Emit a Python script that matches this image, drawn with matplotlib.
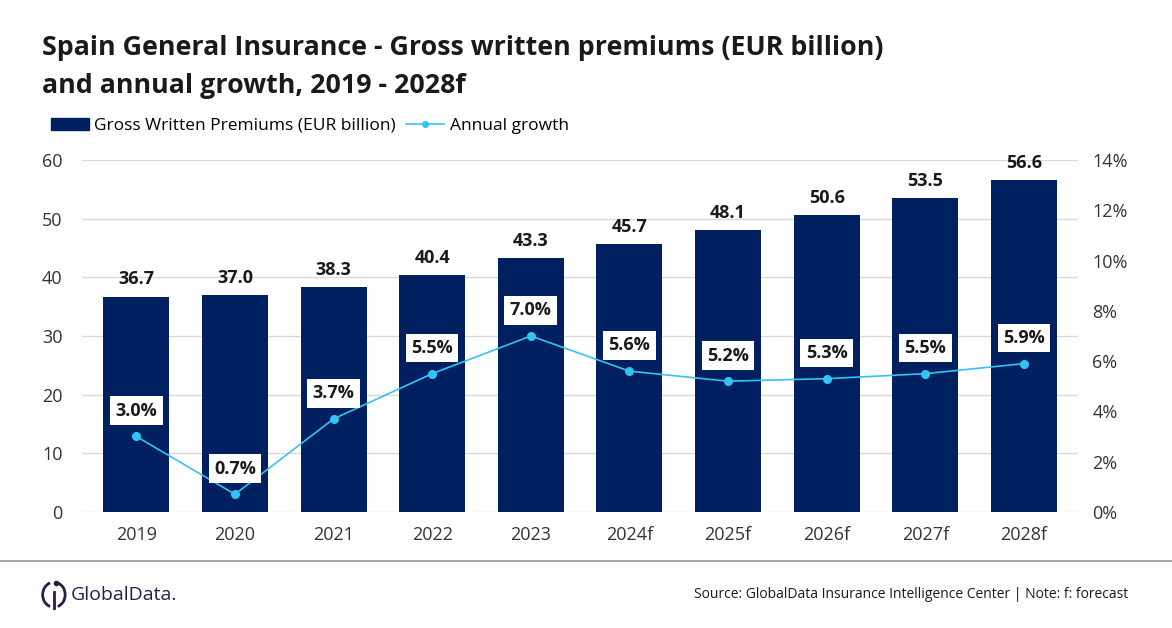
import matplotlib.pyplot as plt
from matplotlib.patches import Arc
from matplotlib.lines import Line2D

years = ["2019", "2020", "2021", "2022", "2023", "2024f", "2025f", "2026f", "2027f", "2028f"]
premiums = [36.7, 37.0, 38.3, 40.4, 43.3, 45.7, 48.1, 50.6, 53.5, 56.6]
growth = [3.0, 0.7, 3.7, 5.5, 7.0, 5.6, 5.2, 5.3, 5.5, 5.9]

bar_color = "#002060"
line_color = "#33c3f5"

plt.rcParams['font.family'] = ['Open Sans', 'DejaVu Sans']

fig = plt.figure(figsize=(11.72, 6.28), dpi=100)
ax = fig.add_axes([0.07, 0.185, 0.85, 0.56])
ax2 = ax.twinx()

x = list(range(len(years)))
ax.bar(x, premiums, width=0.67, color=bar_color, zorder=2)
for xi, v in zip(x, premiums):
    ax.annotate(f"{v:.1f}", (xi, v), xytext=(0, 6), textcoords="offset points",
                ha="center", va="bottom", fontsize=13, fontweight="bold", color="#1a1a1a")

ax.set_ylim(0, 60)
ax.set_yticks(range(0, 61, 10))
ax.set_xlim(-0.55, len(years) - 0.45)
ax.set_xticks(x)
ax.set_xticklabels(years)
ax.grid(axis="y", color="#d9d9d9", linewidth=1, zorder=0)
ax.set_axisbelow(True)
for s in ax.spines.values():
    s.set_visible(False)
for s in ax2.spines.values():
    s.set_visible(False)
ax.tick_params(axis="both", length=0, labelsize=13, colors="#333333", pad=10)
ax.tick_params(axis="y", pad=14)

ax2.plot(x, growth, color=line_color, linewidth=1.2, marker="o", markersize=5.5, zorder=3)
ax2.set_ylim(0, 14)
ax2.set_yticks(range(0, 15, 2))
ax2.set_yticklabels([f"{t}%" for t in range(0, 15, 2)])
ax2.tick_params(axis="y", length=0, labelsize=13, colors="#333333", pad=10)
for xi, g in zip(x, growth):
    ax2.annotate(f"{g:.1f}%", (xi, g), xytext=(0, 12), textcoords="offset points",
                 ha="center", va="bottom", fontsize=13, fontweight="bold", color="#1a1a1a",
                 bbox=dict(boxstyle="square,pad=0.3", facecolor="white", edgecolor="none"))

fig.text(0.036, 0.893, "Spain General Insurance - Gross written premiums (EUR billion)\nand annual growth, 2019 - 2028f",
         fontsize=19.3, fontweight="bold", color="#1a1a1a", va="center", ha="left", linespacing=1.6)

handles = [plt.Rectangle((0, 0), 1, 1, color=bar_color),
           Line2D([0], [0], color=line_color, marker="o", markersize=4, linewidth=1.2)]
fig.legend(handles, ["Gross Written Premiums (EUR billion)", "Annual growth"],
           loc="center left", bbox_to_anchor=(0.03, 0.8), ncol=2, frameon=False,
           fontsize=12.5, handlelength=2.2, handletextpad=0.3, columnspacing=0.6)

fig.add_artist(Line2D([0, 1], [0.107, 0.107], color="#a6a6a6", linewidth=1.5))
fig.text(0.963, 0.054, "Source: GlobalData Insurance Intelligence Center | Note: f: forecast",
         fontsize=10, color="#1a1a1a", ha="right", va="center")
fig.text(0.06, 0.052, "GlobalData.", fontsize=14, color="#2e1a47", ha="left", va="center")
logo = fig.add_axes([0.034, 0.028, 0.024, 0.05])
logo.set_xlim(-1, 1)
logo.set_ylim(-1, 1)
logo.axis("off")
logo.add_patch(Arc((0, 0), 1.6, 1.6, theta1=110, theta2=250, color="#2e1a47", linewidth=2))
logo.add_patch(Arc((0, 0), 1.6, 1.6, theta1=290, theta2=70, color="#2e1a47", linewidth=2))
logo.plot([0, 0], [-1, 0.2], color="#2e1a47", linewidth=2)
logo.plot([0.15], [0.75], marker="o", color="#2e1a47", markersize=3)

fig.savefig("out.png", dpi=100)
